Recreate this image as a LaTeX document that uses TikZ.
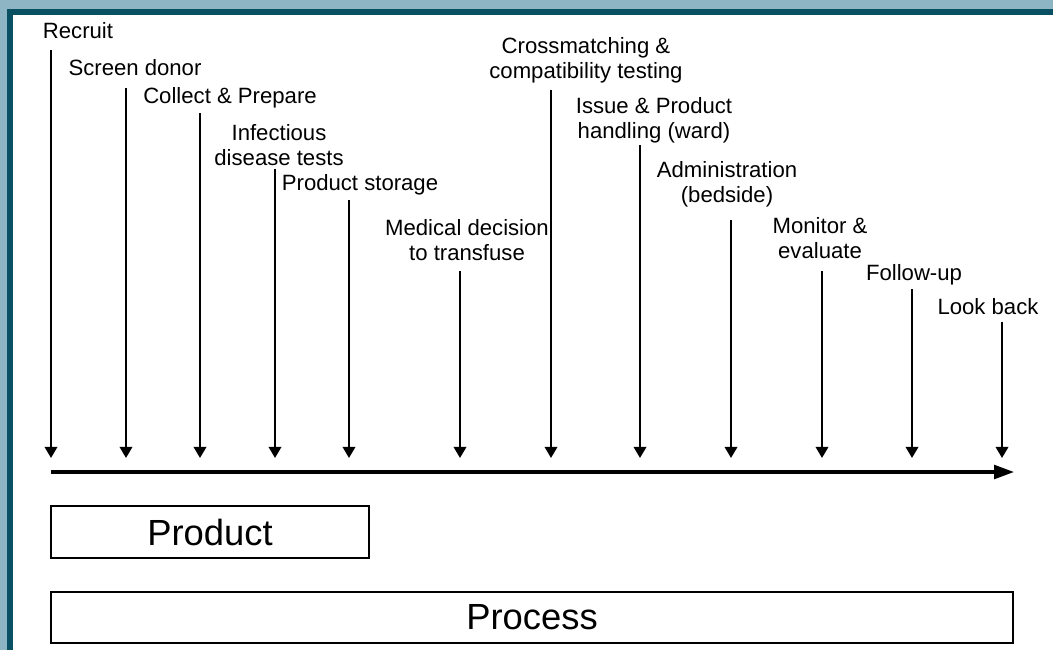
\documentclass[tikz,border=0pt]{standalone}
\usepackage{fontspec}
\setmainfont{Liberation Sans}
\usepackage{tikz}
\usetikzlibrary{positioning, arrows.meta}

\definecolor{slidelight}{RGB}{141,181,196}
\definecolor{slidedark}{RGB}{10,80,99}

\begin{document}
\begin{tikzpicture}[
    x=0.02cm, y=-0.02cm,
    > = {Triangle[length=6.3pt, width=7pt]},
    step label/.style={align=center, inner sep=0pt,
        font=\fontsize{12.6}{14.2}\selectfont},
    drop/.style={->, line width=1.4pt},
    bigbox/.style={draw, line width=1.5pt, inner sep=0pt,
        font=\fontsize{20.7}{24}\selectfont}
]

\useasboundingbox (0,0) rectangle (1053,650);

% --- Slide frame ---
\fill[slidelight] (0,0) rectangle (1053,650);
\fill[slidedark] (7,9) rectangle (1053,650);
\fill[white] (13,15) rectangle (1053,650);

% --- Step labels ---
\node[step label] (recruit) at (78,31) {Recruit};
\node[step label] (screen) at (135,68) {Screen donor};
\node[step label] (collect) at (230,98) {Collect \& Prepare};
\node[step label] (infect) at (279,145) {Infectious\\disease tests};
\node[step label] (storage) at (360,185) {Product storage};
\node[step label] (decide) at (467,240) {Medical decision\\to transfuse};
\node[step label] (xmatch) at (586,60) {Crossmatching \&\\compatibility testing};
\node[step label] (issue) at (654,120) {Issue \& Product\\handling (ward)};
\node[step label] (admin) at (727,184) {Administration\\(bedside)};
\node[step label] (monitor) at (820,238) {Monitor \&\\evaluate};
\node[step label] (follow) at (914,275) {Follow-up};
\node[step label] (lookback) at (988,307) {Look back};

% --- Arrow ends ---
\coordinate (s1) at (51,50);    \coordinate (e1) at (51,458);
\coordinate (s2) at (126,88);   \coordinate (e2) at (126,458);
\coordinate (s3) at (200,113);  \coordinate (e3) at (200,458);
\coordinate (s4) at (275,169);  \coordinate (e4) at (275,458);
\coordinate (s5) at (349,200);  \coordinate (e5) at (349,458);
\coordinate (s6) at (460,271);  \coordinate (e6) at (460,458);
\coordinate (s7) at (551,90);   \coordinate (e7) at (551,458);
\coordinate (s8) at (640,145);  \coordinate (e8) at (640,458);
\coordinate (s9) at (731,220);  \coordinate (e9) at (731,458);
\coordinate (s10) at (822,271); \coordinate (e10) at (822,458);
\coordinate (s11) at (912,289); \coordinate (e11) at (912,458);
\coordinate (s12) at (1002,322); \coordinate (e12) at (1002,458);

% Drops onto the timeline
\draw[drop] (s1) -- (e1);
\draw[drop] (s2) -- (e2);
\draw[drop] (s3) -- (e3);
\draw[drop] (s4) -- (e4);
\draw[drop] (s5) -- (e5);
\draw[drop] (s6) -- (e6);
\draw[drop] (s7) -- (e7);
\draw[drop] (s8) -- (e8);
\draw[drop] (s9) -- (e9);
\draw[drop] (s10) -- (e10);
\draw[drop] (s11) -- (e11);
\draw[drop] (s12) -- (e12);

% --- Timeline ---
\coordinate (tstart) at (51,472);
\coordinate (tend) at (1014,472);
\draw[-{Triangle[length=11.3pt, width=7.8pt]}, line width=1.8pt] (tstart) -- (tend);

% --- Product / Process bars ---
\node[bigbox, minimum width=6.36cm, minimum height=1.04cm] (product) at (210,532) {Product};
\node[bigbox, minimum width=19.24cm, minimum height=1.02cm] (process) at (532,617.5) {Process};

\end{tikzpicture}
\end{document}
